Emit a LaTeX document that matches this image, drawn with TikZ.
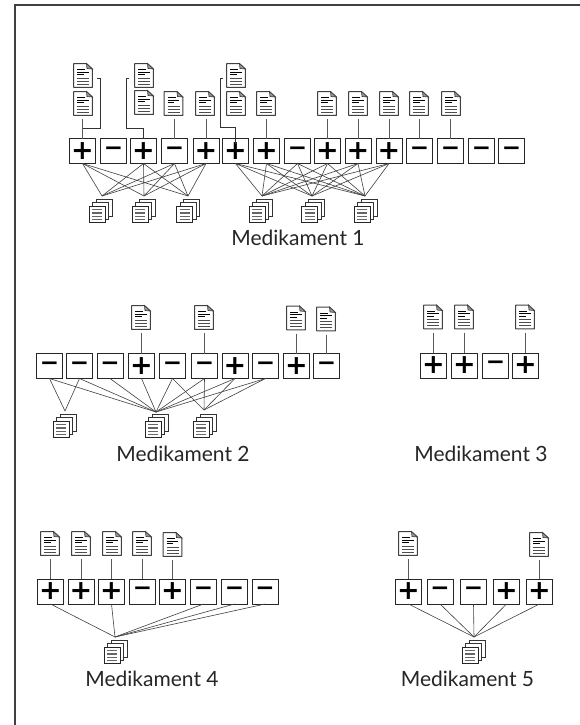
\documentclass[tikz,border=0pt]{standalone}
\usepackage{fontspec}
\setmainfont{Lato}
\newfontfamily\symf{DejaVu Sans}
\tikzset{
 every node/.style={inner sep=0pt,outer sep=0pt},
 pmbox/.style={draw=black!85,line width=1pt,fill=white,minimum width=26pt,minimum height=25pt},
 plusbox/.style={pmbox,font=\symf\bfseries\fontsize{27}{27}\selectfont},
 minusbox/.style={pmbox,font=\symf\bfseries\fontsize{23}{23}\selectfont},
 docicon/.style={minimum width=20pt,minimum height=25pt},
 stackicon/.style={minimum width=24pt,minimum height=25pt},
 wire/.style={draw=black!65,line width=.9pt},
 brack/.style={draw=black!80,line width=.9pt},
 fan/.style={draw=black!75,line width=.6pt},
 title/.style={font=\fontsize{21}{21}\selectfont,anchor=base,text=black!85},
 frameline/.style={draw=black!75,line width=2pt},
}
\newcommand{\PB}[3]{\node[plusbox] (#1) at (#2,#3) {+};}
\newcommand{\MB}[3]{\node[minusbox] (#1) at (#2,#3) {−};}
\newcommand{\DOC}[3]{\node[docicon] (#1) at (#2,#3) {};
  \begin{scope}[shift={(#2-10,#3-12.5)}]
   \draw[black!75,line width=.9pt,fill=white,line join=round] (.6,.6)--(13.5,.6)--(19.4,6)--(19.4,24.4)--(.6,24.4)--cycle;
   \draw[black!75,line width=.7pt,fill=black!40] (13.5,.6)--(14,5.5)--(19.4,6)--cycle;
   \draw[black,line width=.7pt] (4,6.5)--(12,6.5) (4,9)--(15.5,9) (4,11.5)--(10.5,11.5);
   \draw[black!70,line width=.9pt] (4,15)--(16,15) (4,18)--(16,18) (4,21)--(16,21);
  \end{scope}}
\newcommand{\STK}[3]{\node[stackicon] (#1) at (#2,#3) {};
  \begin{scope}[shift={(#2-12,#3-12.5)}]
   \draw[black!80,line width=.8pt,fill=white] (7.5,.6) rectangle (23.4,17.5);
   \draw[black!80,line width=.8pt,fill=white] (4,4) rectangle (20,21);
   \draw[black!85,line width=.9pt,fill=white] (.6,7.5) rectangle (16.6,24.4);
   \draw[black!60,line width=1.3pt] (3.5,11) -- (13.5,11) (3.5,14.5)--(13.5,14.5) (3.5,18)--(13.5,18) (3.5,21)--(13.5,21);
  \end{scope}}
\begin{document}
\begin{tikzpicture}[x=1pt,y=-1pt]
\useasboundingbox (0,0) rectangle (580,725);
\fill[white] (0,0) rectangle (580,725);
\coordinate (fa) at (15,725);
\coordinate (fb) at (15,5.5);
\coordinate (fc) at (580,5.5);
\draw[frameline] (fa) -- (fb) -- (fc);

% ---------- Medikament 1
\PB{a1}{82.5}{151}\MB{a2}{113.5}{151}\PB{a3}{143.5}{151}\MB{a4}{174.5}{151}\PB{a5}{206}{151}
\PB{a6}{235.5}{151}\PB{a7}{266.5}{151}\MB{a8}{297.5}{151}\PB{a9}{327.5}{151}\PB{a10}{358}{151}
\PB{a11}{389}{151}\MB{a12}{419.5}{151}\MB{a13}{450.5}{151}\MB{a14}{481.5}{151}\MB{a15}{511.5}{151}
\DOC{a1u}{83}{75.5}\DOC{a1d}{83}{103.5}
\DOC{a3u}{144}{75.5}\DOC{a3d}{144}{102.5}
\DOC{a4d}{173.5}{103.5}\DOC{a5d}{205}{103.5}
\DOC{a6u}{236}{75.5}\DOC{a6d}{236}{103.5}
\DOC{a7d}{266}{103.5}\DOC{a9d}{327}{103.5}\DOC{a10d}{358}{103.5}\DOC{a11d}{389}{103.5}
\DOC{a12d}{419}{103.5}\DOC{a13d}{451}{103.5}
\STK{as1}{100.5}{211}\STK{as2}{143.5}{211}\STK{as3}{188}{211}
\STK{as4}{260.5}{211}\STK{as5}{313}{211}\STK{as6}{365.5}{211}
\coordinate (at1) at (102,196);\coordinate (at2) at (144,196);\coordinate (at3) at (188,196);
\coordinate (at4) at (262,196);\coordinate (at5) at (312,196);\coordinate (at6) at (365,196);
\foreach \p/\q in {a1d/a1,a4d/a4,a5d/a5,a7d/a7,a9d/a9,a10d/a10,a11d/a11,a12d/a12,a13d/a13}{
  \draw[wire,shorten <=3pt] (\q.north |- \p.south) -- (\q.north);}
\draw[brack] ([shift={(14,2.5)}]a1u.center) ++(0,0) -- ++(3,0) |- ([yshift=10]a1.north);
\draw[brack] ([shift={(-15,2.5)}]a3u.center) -- ++(-3,0) |- ([yshift=10]a3.north) -- (a3.north);
\draw[brack] ([shift={(-13,2.5)}]a6u.center) -- ++(-3,0) |- ([yshift=11]a6.north) -- ([yshift=-5]a6.north);
\foreach \s in {a1,a3,a4,a5}\foreach \t in {at1,at2,at3}{\draw[fan] (\s.south) -- (\t);}
\foreach \s in {a6,a7,a8,a9,a10,a11}\foreach \t in {at4,at5,at6}{\draw[fan] (\s.south) -- (\t);}
\node[title] (al) at (298,245) {Medikament 1};

% ---------- Medikament 2
\MB{b1}{49.5}{366}\MB{b2}{79.5}{366}\MB{b3}{110}{366}\PB{b4}{141.5}{366}\MB{b5}{172.5}{366}
\MB{b6}{204.5}{366}\PB{b7}{235}{366}\MB{b8}{265.5}{366}\PB{b9}{296.5}{366}\MB{b10}{326.5}{366}
\DOC{b4d}{141}{317.5}\DOC{b6d}{204}{317.5}\DOC{b9d}{296}{318}\DOC{b10d}{326}{319}
\STK{bs1}{64.5}{426}\STK{bs2}{156.5}{426}\STK{bs3}{204.5}{426}
\coordinate (bt1) at (65,411);\coordinate (bt2) at (156,412);\coordinate (bt3) at (204,410);
\foreach \p/\q in {b4d/b4,b6d/b6,b9d/b9,b10d/b10}{\draw[wire,shorten <=3pt] (\q.north |- \p.south) -- (\q.north);}
\foreach \s in {b1,b2}{\draw[fan] (\s.south) -- (bt1);}
\foreach \s in {b1,b2,b3,b4,b5,b6,b7,b8}{\draw[fan] (\s.south) -- (bt2);}
\foreach \s in {b5,b6,b7,b8}{\draw[fan] (\s.south) -- (bt3);}
\node[title] (bl) at (183,461.5) {Medikament 2};

% ---------- Medikament 3
\PB{c1}{433.5}{365.5}\PB{c2}{464.5}{365.5}\MB{c3}{495.5}{365.5}\PB{c4}{525.5}{365.5}
\DOC{c1d}{433}{317}\DOC{c2d}{464}{317}\DOC{c4d}{525}{317}
\foreach \p/\q in {c1d/c1,c2d/c2,c4d/c4}{\draw[wire,shorten <=3pt] (\q.north |- \p.south) -- (\q.north);}
\node[title] (cl) at (481,461) {Medikament 3};

% ---------- Medikament 4
\PB{d1}{50.5}{591.5}\PB{d2}{81}{591.5}\PB{d3}{111.5}{591.5}\MB{d4}{142.5}{591.5}\PB{d5}{172.5}{591.5}
\MB{d6}{203.5}{591.5}\MB{d7}{234.5}{591.5}\MB{d8}{265}{591.5}
\DOC{d1d}{50}{543.5}\DOC{d2d}{81}{543.5}\DOC{d3d}{112}{543.5}\DOC{d4d}{142}{543.5}\DOC{d5d}{172.5}{544.5}
\STK{ds1}{115.5}{652}
\coordinate (dt) at (115,637);
\foreach \p/\q in {d1d/d1,d2d/d2,d3d/d3,d4d/d4,d5d/d5}{\draw[wire,shorten <=3pt] (\q.north |- \p.south) -- (\q.north);}
\foreach \s in {d1,d3,d6,d7,d8}{\draw[fan] (\s.south) -- (dt);}
\node[title] (dl) at (152,686.5) {Medikament 4};

% ---------- Medikament 5
\PB{e1}{408.5}{591.5}\MB{e2}{440}{591.5}\MB{e3}{473.5}{591.5}\PB{e4}{506.5}{591.5}\PB{e5}{539.5}{591.5}
\DOC{e1d}{408}{543.5}\DOC{e5d}{539}{544.5}
\STK{es1}{473.5}{652}
\coordinate (et) at (474,637);
\foreach \p/\q in {e1d/e1,e5d/e5}{\draw[wire,shorten <=3pt] (\q.north |- \p.south) -- (\q.north);}
\foreach \s in {e1,e2,e3,e4,e5}{\draw[fan] (\s.south) -- (et);}
\node[title] (el) at (467.5,686.5) {Medikament 5};
\end{tikzpicture}
\end{document}
